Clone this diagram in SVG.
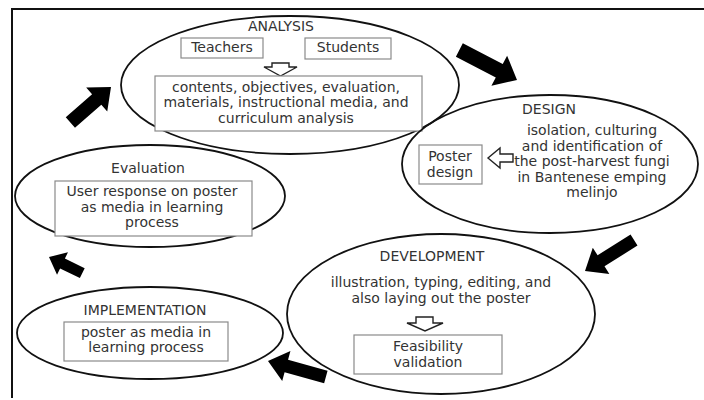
<svg xmlns="http://www.w3.org/2000/svg" width="704" height="400" viewBox="0 0 704 400">
  <style>
    .phase { fill: none; stroke: #111; stroke-width: 1.8; }
    .box { fill: #fff; stroke: #8a8a8a; stroke-width: 1.2; }
    .hollow { fill: #fff; stroke: #222; stroke-width: 1.4; stroke-linejoin: miter; }
    .flow { fill: #000; }
    text { font-family: "DejaVu Sans", "Liberation Sans", sans-serif; font-size: 14px; fill: #333; text-anchor: middle; }
  </style>

  <rect width="704" height="400" fill="#fff"/>
  <!-- outer frame (top and left edges visible) -->
  <path d="M12,398 V9 H704" fill="none" stroke="#111" stroke-width="2"/>

  <!-- ANALYSIS -->
  <g id="analysis">
    <ellipse class="phase" cx="290" cy="85" rx="169" ry="69"/>
    <text x="281" y="31">ANALYSIS</text>
    <rect class="box" x="181" y="38" width="82" height="20"/>
    <text x="222" y="52">Teachers</text>
    <rect class="box" x="305" y="38" width="86" height="21"/>
    <text x="348" y="52">Students</text>
    <path class="hollow" d="M272,63 H289 V67 H297 L280.5,76 L264,67 H272 Z"/>
    <rect class="box" x="155" y="76" width="267" height="55"/>
    <text x="286" y="92">contents, objectives, evaluation,</text>
    <text x="286" y="107">materials, instructional media, and</text>
    <text x="286" y="123">curriculum analysis</text>
  </g>

  <!-- DESIGN -->
  <g id="design">
    <ellipse class="phase" cx="550" cy="164" rx="148" ry="69"/>
    <text x="549" y="114">DESIGN</text>
    <text x="592" y="135">isolation, culturing</text>
    <text x="592" y="151">and identification of</text>
    <text x="592" y="166">the post-harvest fungi</text>
    <text x="592" y="182">in Bantenese emping</text>
    <text x="592" y="197">melinjo</text>
    <path class="hollow" d="M513,154 V162 H500 V168 L488,158 L500,148 V154 Z"/>
    <rect class="box" x="419" y="145" width="63" height="39"/>
    <text x="450" y="161">Poster</text>
    <text x="450" y="177">design</text>
  </g>

  <!-- DEVELOPMENT -->
  <g id="development">
    <ellipse class="phase" cx="441" cy="314" rx="154" ry="80"/>
    <text x="432" y="261">DEVELOPMENT</text>
    <text x="441" y="287">illustration, typing, editing, and</text>
    <text x="441" y="303">also laying out the poster</text>
    <path class="hollow" d="M416,317 H433 V323 H443 L425,331 L407,323 H416 Z"/>
    <rect class="box" x="354" y="335" width="148" height="39"/>
    <text x="428" y="351">Feasibility</text>
    <text x="428" y="367">validation</text>
  </g>

  <!-- IMPLEMENTATION -->
  <g id="implementation">
    <ellipse class="phase" cx="150" cy="333" rx="133" ry="46"/>
    <text x="145" y="315">IMPLEMENTATION</text>
    <rect class="box" x="64" y="322" width="164" height="39"/>
    <text x="146" y="337">poster as media in</text>
    <text x="146" y="352">learning process</text>
  </g>

  <!-- Evaluation -->
  <g id="evaluation">
    <ellipse class="phase" cx="150" cy="196" rx="135" ry="51"/>
    <text x="148" y="173">Evaluation</text>
    <rect class="box" x="55" y="181" width="197" height="55"/>
    <text x="152" y="196">User response on poster</text>
    <text x="152" y="212">as media in learning</text>
    <text x="152" y="227">process</text>
  </g>

  <!-- cycle arrows: drawn pointing along +x with the tip at the origin -->
  <g id="connectors">
    <path class="flow" transform="translate(517,80) rotate(27.5)" d="M-65,-7.5 H-20 V-17 L0,0 L-20,17 V7.5 H-65 Z"/>
    <path class="flow" transform="translate(585,271) rotate(147.7)" d="M-58,-6.5 H-19 V-15.5 L0,0 L-19,15.5 V6.5 H-58 Z"/>
    <path class="flow" transform="translate(268,361) rotate(195.4)" d="M-60,-6.5 H-19 V-15.5 L0,0 L-19,15.5 V6.5 H-60 Z"/>
    <path class="flow" transform="translate(49,257) rotate(205.9)" d="M-37,-5.5 H-15 V-12.5 L0,0 L-15,12.5 V5.5 H-37 Z"/>
    <path class="flow" transform="translate(111,87) rotate(-41.2)" d="M-54,-7 H-19 V-16 L0,0 L-19,16 V7 H-54 Z"/>
  </g>
</svg>
